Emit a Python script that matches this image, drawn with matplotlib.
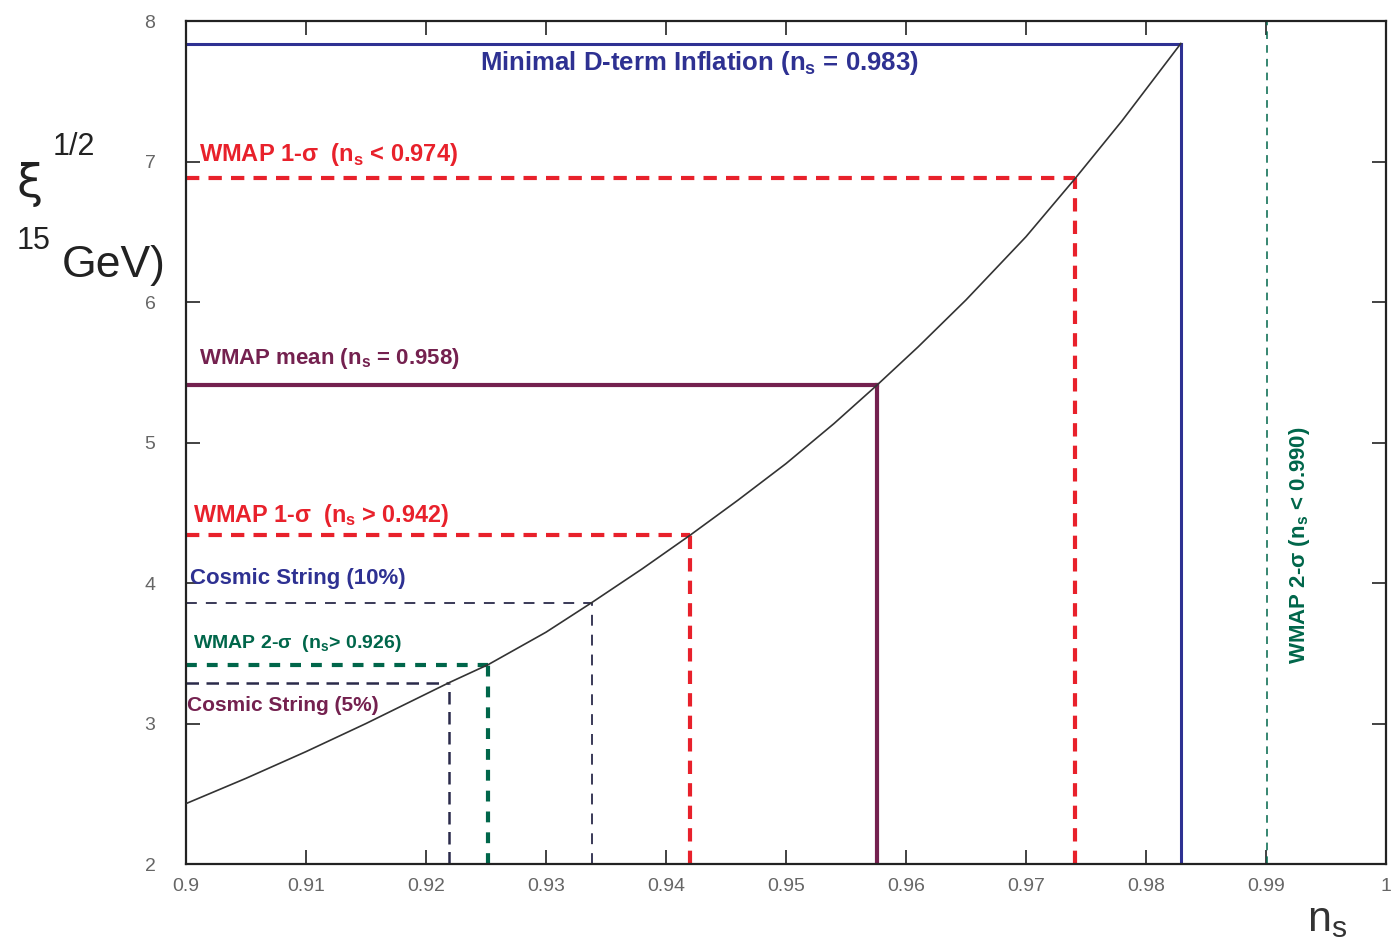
import matplotlib
matplotlib.use("Agg")
import matplotlib.pyplot as plt
from matplotlib import font_manager

# ---- data ----
curve_ns = [0.900, 0.905, 0.910, 0.915, 0.9219, 0.9252, 0.930, 0.9338, 0.938, 0.942,
            0.946, 0.950, 0.954, 0.9576, 0.961, 0.965, 0.970, 0.9741, 0.978, 0.9829]
curve_xi = [2.43, 2.61, 2.80, 3.00, 3.29, 3.42, 3.65, 3.86, 4.10, 4.34,
            4.59, 4.85, 5.135, 5.41, 5.68, 6.015, 6.465, 6.88, 7.29, 7.84]

# threshold markers: (ns, xi)
d_term_ns, d_term_xi = 0.9829, 7.84
wmap1_hi_ns, wmap1_hi_xi = 0.9741, 6.88
wmap_mean_ns, wmap_mean_xi = 0.9576, 5.41
wmap1_lo_ns, wmap1_lo_xi = 0.9420, 4.34
cs10_ns, cs10_xi = 0.9338, 3.86
wmap2_lo_ns, wmap2_lo_xi = 0.9252, 3.42
cs5_ns, cs5_xi = 0.9219, 3.29
wmap2_hi_ns = 0.9901

x_ticks = [0.9, 0.91, 0.92, 0.93, 0.94, 0.95, 0.96, 0.97, 0.98, 0.99, 1.0]
x_ticklabels = ["0.9", "0.91", "0.92", "0.93", "0.94", "0.95", "0.96", "0.97", "0.98", "0.99", "1"]
y_ticks = [2, 3, 4, 5, 6, 7, 8]
y_ticklabels = ["2", "3", "4", "5", "6", "7", "8"]

# ---- fonts ----
avail = {f.name for f in font_manager.fontManager.ttflist}
narrow = "Liberation Sans Narrow" if "Liberation Sans Narrow" in avail else "Liberation Sans"
plain = "Liberation Sans"

RED = "#e8212b"
NAVY = "#2e3192"
PURPLE = "#74214f"
GREEN = "#00664a"
DARK = "#2a2a4a"

fig = plt.figure(figsize=(13.93, 9.47), dpi=100)
ax = fig.add_axes([0.1335, 0.0876, 0.8615, 0.8902])
ax.set_xlim(0.9, 1.0)
ax.set_ylim(2, 8)

# curve
ax.plot(curve_ns, curve_xi, color="#333333", lw=1.2, zorder=5)

x0, y0 = 0.9, 2.0
# Minimal D-term
ax.plot([x0, d_term_ns], [d_term_xi, d_term_xi], color=NAVY, lw=2.2)
ax.plot([d_term_ns, d_term_ns], [y0, d_term_xi], color=NAVY, lw=2.2)
# WMAP 1-sigma upper
ax.plot([x0, wmap1_hi_ns], [wmap1_hi_xi, wmap1_hi_xi], color=RED, lw=3, dashes=(3.2, 2.2))
ax.plot([wmap1_hi_ns, wmap1_hi_ns], [y0, wmap1_hi_xi], color=RED, lw=3, dashes=(3.2, 2.2))
# WMAP mean
ax.plot([x0, wmap_mean_ns], [wmap_mean_xi, wmap_mean_xi], color=PURPLE, lw=3)
ax.plot([wmap_mean_ns, wmap_mean_ns], [y0, wmap_mean_xi], color=PURPLE, lw=3)
# WMAP 1-sigma lower
ax.plot([x0, wmap1_lo_ns], [wmap1_lo_xi, wmap1_lo_xi], color=RED, lw=3, dashes=(3.2, 2.2))
ax.plot([wmap1_lo_ns, wmap1_lo_ns], [y0, wmap1_lo_xi], color=RED, lw=3, dashes=(3.2, 2.2))
# Cosmic string 10%
ax.plot([x0, cs10_ns], [cs10_xi, cs10_xi], color=DARK, lw=1.3, dashes=(6, 5))
ax.plot([cs10_ns, cs10_ns], [y0, cs10_xi], color=DARK, lw=1.3, dashes=(6, 5))
# WMAP 2-sigma lower
ax.plot([x0, wmap2_lo_ns], [wmap2_lo_xi, wmap2_lo_xi], color=GREEN, lw=3, dashes=(2.6, 2.4))
ax.plot([wmap2_lo_ns, wmap2_lo_ns], [y0, wmap2_lo_xi], color=GREEN, lw=3, dashes=(2.6, 2.4))
# Cosmic string 5%
ax.plot([x0, cs5_ns], [cs5_xi, cs5_xi], color=DARK, lw=1.8, dashes=(5, 3))
ax.plot([cs5_ns, cs5_ns], [y0, cs5_xi], color=DARK, lw=1.8, dashes=(5, 3))
# WMAP 2-sigma upper
ax.plot([wmap2_hi_ns, wmap2_hi_ns], [y0, 8], color=GREEN, lw=1.1, dashes=(5, 4))

def lab(x, y, s, color, size, **kw):
    ax.text(x, y, s, color=color, family=narrow, fontweight="bold", fontsize=size,
            va="center", **kw)

lab(0.9428, 7.70, r"Minimal D-term Inflation (n$_\mathregular{s}$ = 0.983)", NAVY, 18.5, ha="center")
lab(0.9011, 7.05, r"WMAP 1-σ  (n$_\mathregular{s}$ < 0.974)", RED, 17, ha="left")
lab(0.9011, 5.60, r"WMAP mean (n$_\mathregular{s}$ = 0.958)", PURPLE, 16, ha="left")
lab(0.9006, 4.48, r"WMAP 1-σ  (n$_\mathregular{s}$ > 0.942)", RED, 16.8, ha="left")
lab(0.9003, 4.03, "Cosmic String (10%)", NAVY, 16, ha="left")
lab(0.9006, 3.57, r"WMAP 2-σ  (n$_\mathregular{s}$> 0.926)", GREEN, 14, ha="left")
lab(0.9001, 3.13, "Cosmic String (5%)", PURPLE, 15, ha="left")
lab(0.9928, 4.27, r"WMAP 2-σ (n$_\mathregular{s}$ < 0.990)", GREEN, 16, ha="center", rotation=90)

ax.set_xticks(x_ticks)
ax.set_xticklabels(x_ticklabels)
ax.set_yticks(y_ticks)
ax.set_yticklabels(y_ticklabels)
ax.tick_params(direction="in", length=10, width=1.2, top=True, right=True,
               labelsize=14, colors="#222222")
ax.tick_params(axis="x", pad=10, labelcolor="#666666")
ax.tick_params(axis="y", pad=22, labelcolor="#666666")
for t in ax.get_xticklabels() + ax.get_yticklabels():
    t.set_family(plain)
for sp in ax.spines.values():
    sp.set_linewidth(1.6)
    sp.set_color("#222222")

# axis labels (as drawn in the original, partially clipped)
fig.text(0.012, 0.805, "ξ", fontsize=34, family="DejaVu Sans", color="#222222", ha="left", va="center")
fig.text(0.038, 0.845, "1/2", fontsize=22, family=plain, color="#222222", ha="left", va="center")
fig.text(0.012, 0.746, "15", fontsize=22, family=plain, color="#222222", ha="left", va="center")
fig.text(0.044, 0.720, "GeV)", fontsize=32, family=plain, color="#222222", ha="left", va="center")
fig.text(0.938, 0.028, r"n$_\mathregular{s}$", fontsize=31, family=plain, color="#333333",
         ha="left", va="center")

fig.savefig("out.png", dpi=100)
